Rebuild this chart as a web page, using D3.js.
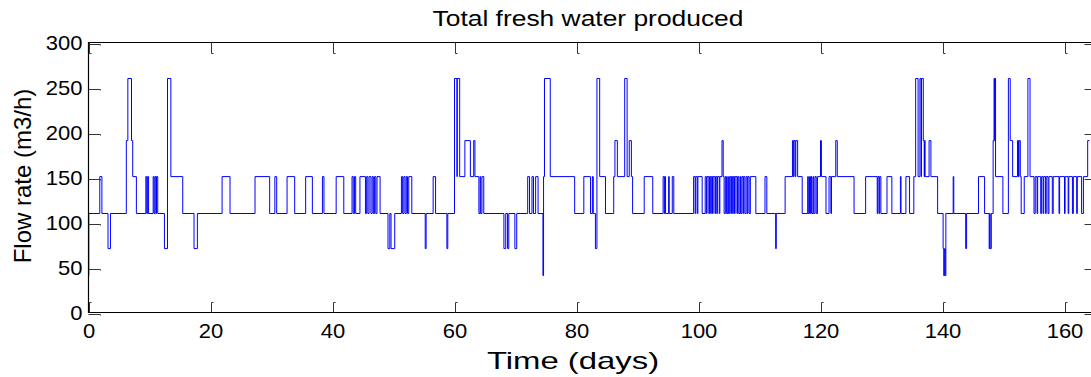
<!DOCTYPE html>
<html>
<head>
<meta charset="utf-8">
<script src="https://cdn.jsdelivr.net/npm/d3@7/dist/d3.min.js"></script>
<style>
  html, body { margin: 0; padding: 0; background: #fff; }
  svg { display: block; }
  text { font-family: "Liberation Sans", Arial, sans-serif; fill: #000; }
</style>
</head>
<body>
<svg id="chart" width="1091" height="377"></svg>
<script>
// ---- data (step changes: day at which the flow switches, new flow in m3/h) ----
const days = [
  0, 0.05, 1.85, 2.2, 3.2, 3.6, 6.2, 6.45, 7.05, 7.25, 7.85,
  9.4, 9.55, 9.7, 9.85, 10.6, 10.75, 10.9, 11.05, 11.15, 11.35,
  12.45, 12.95, 13.5, 15.45, 17.3, 17.85, 21.9, 23.2, 27.3, 29.7,
  30.55, 30.85, 32.55, 33.8, 35.6, 36.7, 38.35, 38.6, 40.6, 41.85,
  43.2, 43.4, 43.6, 43.8, 44.5, 45.4, 45.6, 45.8, 46.0, 46.3, 46.5, 46.7, 46.9, 47.1, 47.3, 47.8,
  49.1, 49.4, 49.6, 50.2, 51.3, 51.5, 51.7, 51.9, 52.1, 52.3, 52.5, 53.0,
  55.2, 55.35, 56.5, 56.9, 58.75, 58.9,
  60.0, 60.4, 60.45, 60.85, 61.7, 62.6, 63.15, 63.35,
  64.0, 64.2, 64.3, 64.5, 64.8,
  68.1, 68.4, 68.7, 68.9, 69.9, 70.2,
  72.0, 72.3, 72.7, 72.95, 73.3, 73.7,
  74.5, 74.6, 74.75, 75.7, 79.7, 81.2, 82.3, 82.6, 82.75,
  83.1, 83.35, 83.8, 84.75, 86.1, 86.3, 86.7, 87.9, 88.3, 88.65, 89.0, 89.2,
  91.1, 92.5, 94.2, 94.4, 94.5, 94.6, 95.1, 95.2, 95.7, 95.95,
  99.2, 99.45, 99.55, 99.8, 99.9, 100.6,
  101.1, 101.3, 101.4, 101.7, 101.8, 102.0, 102.1, 102.3, 102.4, 102.7, 102.8, 103.0, 103.1, 103.4, 103.5, 103.85, 104.05, 104.2,
  104.4, 104.6, 104.8, 104.9, 105.1, 105.3, 105.4, 105.6, 105.7, 105.9, 106.0, 106.3, 106.4, 106.6, 106.8, 106.9,
  107.1, 107.3, 107.4, 107.6, 107.8, 108.0, 108.1, 108.3, 108.5, 109.4,
  110.9, 111.2, 112.65, 112.75, 114.2, 115.4, 115.55, 115.65, 115.85, 115.95, 116.25, 117.0,
  117.9, 118.0, 118.2, 118.35, 118.5, 118.6, 118.8, 118.9, 119.1, 119.3, 119.5,
  120.0, 120.15, 120.9, 121.4, 121.7, 121.8, 122.5, 122.75,
  125.5, 127.4, 129.3, 129.4, 129.6, 129.7, 129.9, 130.9, 131.7, 133.1, 133.2, 134.0, 134.6,
  135.3, 135.6, 136.0, 136.3, 136.5, 136.55, 136.85, 137.0, 137.05, 137.15, 137.8, 138.1, 139.2,
  140.1, 140.2, 140.35, 140.45, 140.55, 141.75, 141.85, 143.8, 143.95, 145.9, 146.9,
  147.65, 147.75, 147.8, 148.0, 148.3, 148.45, 148.55, 148.6, 148.7, 149.9,
  150.8, 151.1, 151.5, 152.3, 152.45, 152.55, 152.75, 152.9, 153.4, 154.0, 154.35,
  155.0, 155.2, 155.5, 155.6, 156.1, 156.25, 156.5, 156.6, 156.9, 157.0, 157.3, 157.45, 158.0, 158.15,
  159.1, 159.2, 160.0, 160.1, 160.6, 160.7, 161.3, 161.45, 162.0, 162.1, 162.8, 163.1, 163.8, 164.1
];
const flow = [
  41, 110, 151, 110, 71, 110, 191, 260, 191, 151, 110,
  151, 110, 151, 110, 151, 110, 151, 110, 151, 110,
  71, 260, 151, 110, 71, 110, 151, 110, 151, 110,
  151, 110, 151, 110, 151, 110, 151, 110, 151, 110,
  151, 110, 151, 110, 151, 110, 151, 110, 151, 110, 151, 110, 151, 110, 151, 110,
  71, 110, 71, 110, 151, 110, 151, 110, 151, 110, 151, 110,
  71, 110, 151, 110, 71, 110,
  260, 151, 260, 151, 191, 151, 191, 151,
  110, 151, 110, 151, 110,
  71, 110, 71, 110, 71, 110,
  151, 110, 151, 110, 151, 110,
  41, 151, 260, 151, 110, 151, 110, 151, 110,
  71, 260, 151, 110, 151, 191, 151, 260, 151, 191, 151, 110,
  151, 110, 151, 110, 151, 110, 151, 110, 151, 110,
  151, 110, 151, 110, 151, 110,
  151, 110, 151, 110, 151, 110, 151, 110, 151, 110, 151, 110, 151, 110, 151, 191, 151, 110,
  151, 110, 151, 110, 151, 110, 151, 110, 151, 110, 151, 110, 151, 110, 151, 110,
  151, 110, 151, 110, 151, 110, 151, 110, 151, 110,
  151, 110, 71, 110, 151, 191, 151, 191, 151, 191, 151, 110,
  151, 110, 151, 110, 151, 110, 151, 110, 151, 110, 151,
  191, 151, 110, 151, 110, 151, 191, 151,
  110, 151, 110, 151, 110, 151, 110, 151, 110, 151, 110, 151, 110,
  151, 260, 151, 260, 151, 260, 191, 151, 191, 151, 191, 151, 110,
  71, 41, 71, 41, 110, 151, 110, 71, 110, 151, 110,
  71, 110, 71, 110, 191, 260, 191, 260, 151, 110,
  260, 191, 151, 191, 151, 191, 151, 110, 151, 260, 151,
  110, 151, 110, 151, 110, 151, 110, 151, 110, 151, 110, 151, 110, 151,
  110, 151, 110, 151, 110, 151, 110, 151, 110, 151, 110, 151, 191, 191
];
const xTicks = [0, 20, 40, 60, 80, 100, 120, 140, 160];
const yTicks = [0, 50, 100, 150, 200, 250, 300];
const titleText = "Total fresh water produced";
const xLabel = "Time (days)";
const yLabel = "Flow rate (m3/h)";

(function () {
  const svg = d3.select("#chart");
  const mLeft = 88.5, mTop = 42.5, mBottom = 312.5;
  const x = d3.scaleLinear().domain([0, 164.6]).range([mLeft, mLeft + 164.6 * 6.1]);
  const y = d3.scaleLinear().domain([0, 300]).range([mBottom, mTop]);
  const mRight = x.range()[1];

  const points = days.map((d, i) => [d, flow[i]]);

  // series
  svg.append("path")
    .datum(points)
    .attr("fill", "none")
    .attr("stroke", "#0000ff")
    .attr("stroke-width", 1)
    .attr("d", d3.line().x(d => x(d[0])).y(d => y(d[1])).curve(d3.curveStepAfter));

  // axes box (right side falls off the canvas)
  svg.append("path")
    .attr("d", `M${mRight},${mTop}H${mLeft}V${mBottom}H${mRight}`)
    .attr("fill", "none").attr("stroke", "#000").attr("stroke-width", 1.2);

  // tick marks (inward, with small hook)
  const tg = svg.append("g").attr("fill", "none").attr("stroke", "#333").attr("stroke-width", 1);
  xTicks.forEach(t => {
    const px = Math.round(x(t)) + 0.5;
    tg.append("path").attr("d", `M${px},${mBottom}V${mBottom - 10}h2`);
    tg.append("path").attr("d", `M${px},${mTop}V${mTop + 11}h2`);
  });
  yTicks.forEach(v => {
    const py = Math.round(y(v)) + 1.5;
    tg.append("path").attr("d", `M${mLeft},${py}H${mLeft + 12}v1`);
    tg.append("path").attr("d", `M${mRight},${py}H${mRight - 8}`);
  });

  const tickScale = 1.1;
  // tick labels
  const gx = svg.append("g").attr("transform", `translate(0,${mBottom})`)
    .call(d3.axisBottom(x).tickValues(xTicks).tickSize(0).tickPadding(0));
  gx.select(".domain").remove();
  gx.selectAll("text").attr("font-size", 20).attr("dy", null).attr("y", 26)
    .attr("transform", `scale(${tickScale},1)`)
    .attr("font-family", "Liberation Sans, Arial, sans-serif").attr("fill", "#000");

  const gy = svg.append("g").attr("transform", `translate(${mLeft},0)`)
    .call(d3.axisLeft(y).tickValues(yTicks).tickSize(0).tickPadding(0));
  gy.select(".domain").remove();
  gy.selectAll("text").attr("font-size", 20).attr("x", -6 / tickScale).attr("dy", "0.36em")
    .attr("transform", `scale(${tickScale},1)`)
    .attr("font-family", "Liberation Sans, Arial, sans-serif").attr("fill", "#000");

  // title and axis labels
  svg.append("text").attr("transform", "translate(588,26) scale(1.2,1)").attr("text-anchor", "middle")
    .attr("font-size", 22).text(titleText);
  svg.append("text").attr("transform", "translate(573,369) scale(1.43,1)").attr("text-anchor", "middle")
    .attr("font-size", 23).text(xLabel);
  svg.append("text").attr("transform", "translate(31,176) rotate(-90)").attr("text-anchor", "middle")
    .attr("font-size", 24).text(yLabel);
})();
</script>
</body>
</html>
